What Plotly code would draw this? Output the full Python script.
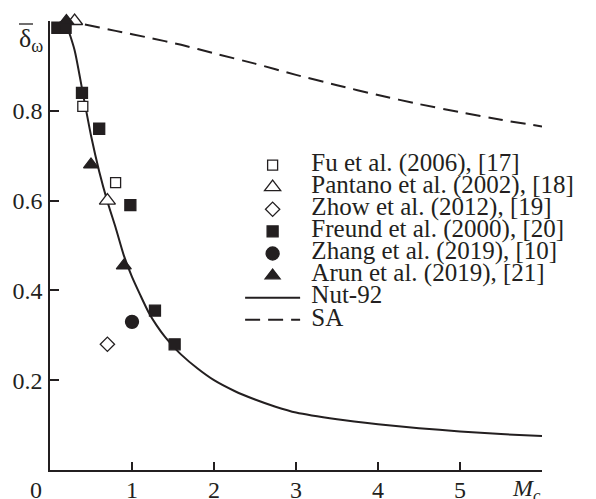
import plotly.graph_objects as go

# ---- data ----
fu_x = [0.40, 0.80]
fu_y = [0.81, 0.64]
pantano_x = [0.30, 0.70]
pantano_y = [1.00, 0.60]
zhow_x = [0.70]
zhow_y = [0.28]
freund_x = [0.09, 0.19, 0.39, 0.60, 0.98, 1.28, 1.52]
freund_y = [0.985, 0.985, 0.84, 0.76, 0.59, 0.355, 0.28]
zhang_x = [1.00]
zhang_y = [0.33]
arun_x = [0.20, 0.50, 0.90]
arun_y = [1.00, 0.68, 0.455]

nut_x = [0.15, 0.2, 0.3, 0.4, 0.5, 0.6, 0.7, 0.8, 0.9, 1.0, 1.1, 1.2, 1.3, 1.4, 1.5,
         1.6, 1.8, 2.0, 2.25, 2.5, 2.75, 3.0, 3.5, 4.0, 4.5, 5.0, 5.5, 6.0]
nut_y = [1.0, 0.99, 0.935, 0.84, 0.745, 0.665, 0.598, 0.54, 0.478, 0.43, 0.39, 0.352,
         0.322, 0.297, 0.276, 0.257, 0.226, 0.2, 0.176, 0.157, 0.141, 0.128, 0.113,
         0.102, 0.093, 0.086, 0.08, 0.076]

sa_x = [0.15, 0.4, 0.8, 1.2, 1.6, 2.0, 2.5, 3.0, 3.5, 4.0, 4.5, 5.0, 5.5, 6.0]
sa_y = [1.0, 0.993, 0.978, 0.963, 0.947, 0.928, 0.905, 0.88, 0.857, 0.835, 0.815,
        0.797, 0.78, 0.765]

x_tickvals = [1, 2, 3, 4, 5, 6]
x_ticktext = ["1", "2", "3", "4", "5", ""]
y_tickvals = [0.2, 0.4, 0.6, 0.8]
y_ticktext = ["0.2", "0.4", "0.6", "0.8"]

names = ["Fu et al. (2006), [17]", "Pantano et al. (2002), [18]", "Zhow et al. (2012), [19]",
         "Freund et al. (2000), [20]", "Zhang et al. (2019), [10]", "Arun et al. (2019), [21]",
         "Nut-92", "SA"]

INK = "#231f20"
FONT = "Liberation Serif, Times New Roman, Tinos, DejaVu Serif, serif"

# the page body adds an 8px offset; plot area wanted on the page: x 50..541.7, y 21..470
OFF = 8
L = 50 - OFF
T = 21 - OFF
R = 596 - (541.7 - OFF)
B = 499 - (470 - OFF)
PW, PH = 596 - L - R, 499 - T - B


def px(xp):
    return (xp - OFF - L) / PW


def py(yp):
    return 1 - (yp - OFF - T) / PH


def lbl(s):
    return '<span style="font-size:25px">&#160;' + s + '</span>'


fig = go.Figure()
fig.add_trace(go.Scatter(x=nut_x, y=nut_y, mode="lines", name=lbl(names[6]), legendrank=7,
                         line=dict(color=INK, width=2, shape="spline", smoothing=0.6)))
fig.add_trace(go.Scatter(x=sa_x, y=sa_y, mode="lines", name=lbl(names[7]), legendrank=8,
                         line=dict(color=INK, width=2, dash="15px,8px", shape="spline", smoothing=0.6)))

mk = [
    (fu_x, fu_y, names[0], "square", 10, "white", 1),
    (pantano_x, pantano_y, names[1], "triangle-up", 14, "white", 2),
    (zhow_x, zhow_y, names[2], "diamond", 11, "white", 3),
    (freund_x, freund_y, names[3], "square", 11, INK, 4),
    (zhang_x, zhang_y, names[4], "circle", 13, INK, 5),
    (arun_x, arun_y, names[5], "triangle-up", 13, INK, 6),
]
for xs, ys, nm, sym, sz, fill, rk in mk:
    fig.add_trace(go.Scatter(
        x=xs, y=ys, mode="markers", name=lbl(nm), legendrank=rk, cliponaxis=False,
        marker=dict(symbol=sym, size=sz, color=fill, line=dict(color=INK, width=1.3)),
    ))

fig.update_layout(
    width=596, height=499,
    margin=dict(l=L, r=R, t=T, b=B, autoexpand=False),
    paper_bgcolor="white", plot_bgcolor="white",
    font=dict(family=FONT, size=24, color=INK),
    showlegend=True,
    legend=dict(x=px(240), y=py(149), xanchor="left", yanchor="top",
                bgcolor="rgba(0,0,0,0)", font=dict(family=FONT, size=14.7, color=INK),
                itemwidth=55, tracegroupgap=0),
    xaxis=dict(range=[0, 6], showgrid=False, zeroline=False, showline=True, automargin=False,
               linecolor=INK, linewidth=1.5, ticks="inside", ticklen=8, tickwidth=1.5,
               tickcolor=INK, tickvals=x_tickvals, ticktext=x_ticktext,
               ticklabelstandoff=-3, tickfont=dict(family=FONT, size=24, color=INK)),
    yaxis=dict(range=[0, 1], showgrid=False, zeroline=False, showline=True, automargin=False,
               linecolor=INK, linewidth=1.5, ticks="inside", ticklen=9, tickwidth=1.5,
               tickcolor=INK, tickvals=y_tickvals, ticktext=y_ticktext,
               ticklabelstandoff=1, tickfont=dict(family=FONT, size=24, color=INK)),
    shapes=[
        dict(type="line", xref="paper", yref="paper", x0=px(19), x1=px(33), y0=py(24), y1=py(24),
             line=dict(color=INK, width=1.3)),
    ],
    annotations=[
        dict(xref="paper", yref="paper", x=px(17), y=py(40),
             text="δ<sub>ω</sub>", showarrow=False, xanchor="left", yanchor="middle",
             font=dict(family=FONT, size=26, color=INK)),
        dict(xref="paper", yref="paper", x=px(36), y=py(490),
             text="0", showarrow=False, xanchor="center", yanchor="middle",
             font=dict(family=FONT, size=24, color=INK)),
        dict(xref="paper", yref="paper", x=px(526), y=py(490),
             text="<i>M<sub>c</sub></i>", showarrow=False, xanchor="center", yanchor="middle",
             font=dict(family=FONT, size=24, color=INK)),
    ],
)

fig.write_html("out.html")
